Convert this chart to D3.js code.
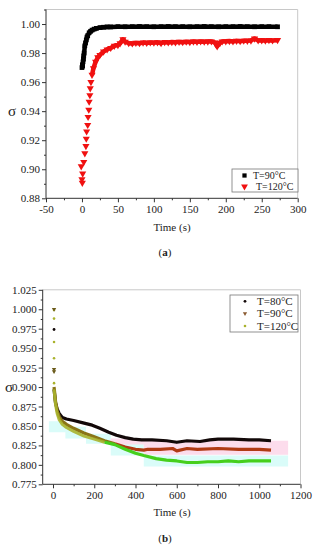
<!DOCTYPE html>
<html><head><meta charset="utf-8">
<script src="https://cdn.jsdelivr.net/npm/d3@7"></script>
<style>
body{margin:0;background:#fff}
svg{display:block}
text{font-family:"Liberation Serif","Times New Roman",serif;fill:#222}
</style></head>
<body><svg id="c" width="317" height="550" font-family="Liberation Serif, serif"></svg>
<script>
// ---------- Panel (a) data ----------
const aXTicks = [-50, 0, 50, 100, 150, 200, 250, 300];
const aYTicks = [0.88, 0.90, 0.92, 0.94, 0.96, 0.98, 1.00];
const aSeriesNames = ["T=90°C", "T=120°C"];
const aBlackT = [0, 0.5, 1, 1.5, 2, 2.5, 3, 4, 5, 6, 7, 8, 10, 12, 14, 17, 20, 25, 30, 35, 40, 50, 60, 70, 80, 90, 100, 110, 120, 130, 140, 150, 160, 170, 180, 190, 200, 210, 220, 230, 240, 250, 260, 272];
const aBlackV = [0.970, 0.972, 0.971, 0.974, 0.976, 0.978, 0.980, 0.985, 0.987, 0.989, 0.991, 0.992, 0.994, 0.995, 0.9958, 0.9965, 0.997, 0.9975, 0.9978, 0.998, 0.998, 0.9982, 0.9981, 0.9982, 0.9983, 0.9982, 0.9981, 0.9982, 0.9983, 0.9982, 0.9982, 0.9981, 0.9982, 0.9983, 0.9982, 0.9981, 0.9982, 0.9982, 0.9983, 0.9982, 0.9981, 0.9982, 0.9982, 0.9981];
const aRedT = [0.5, 0, 1, -1, 2.5, 4, 5.5, 6, 6.5, 8, 8.5, 9.5, 10, 11, 11.5, 12.5, 14, 16, 19, 22, 25, 30, 35, 40, 45, 50, 53, 57, 60, 65, 70, 75, 80, 85, 90, 95, 100, 105, 110, 115, 120, 125, 130, 135, 140, 145, 150, 155, 160, 165, 170, 175, 180, 185, 188, 192, 195, 200, 205, 210, 215, 220, 225, 230, 235, 240, 245, 250, 255, 260, 265, 272];
const aRedV = [0.8907, 0.893, 0.897, 0.902, 0.905, 0.911, 0.916, 0.921, 0.926, 0.9305, 0.936, 0.941, 0.9465, 0.951, 0.9557, 0.960, 0.965, 0.9695, 0.974, 0.977, 0.9787, 0.981, 0.9825, 0.9835, 0.985, 0.9855, 0.9867, 0.9895, 0.9878, 0.9868, 0.9866, 0.9870, 0.9868, 0.9872, 0.9870, 0.9873, 0.9871, 0.9874, 0.9868, 0.9875, 0.9873, 0.9876, 0.9874, 0.9877, 0.9875, 0.9878, 0.9876, 0.9879, 0.9877, 0.9880, 0.9878, 0.9879, 0.9880, 0.9872, 0.9846, 0.9870, 0.9880, 0.9881, 0.9883, 0.9880, 0.9884, 0.9882, 0.9885, 0.9884, 0.9886, 0.9900, 0.9887, 0.9888, 0.9886, 0.9889, 0.9887, 0.9889];

// ---------- Panel (b) data ----------
const bXTicks = [0, 200, 400, 600, 800, 1000, 1200];
const bYTicks = [0.775, 0.800, 0.825, 0.850, 0.875, 0.900, 0.925, 0.950, 0.975, 1.000, 1.025];
const bSeriesNames = ["T=80°C", "T=90°C", "T=120°C"];
const b80Start = [[5, 0.974]];
const b90Start = [[5, 1.000], [5, 0.923], [5, 0.920]];
const b120Start = [[5, 0.999], [5, 0.988], [5, 0.958], [5, 0.937], [5, 0.905]];
const b80T = [5, 8, 12, 20, 30, 45, 65, 100, 146, 190, 227, 270, 308, 350, 389, 430, 480, 551, 600, 650, 713, 760, 800, 875, 950, 1000, 1057];
const b80V = [0.897, 0.890, 0.880, 0.872, 0.866, 0.861, 0.859, 0.857, 0.854, 0.851, 0.847, 0.842, 0.838, 0.835, 0.833, 0.832, 0.832, 0.831, 0.829, 0.831, 0.830, 0.832, 0.833, 0.833, 0.832, 0.832, 0.831];
const b90T = [5, 8, 12, 20, 30, 45, 65, 100, 150, 200, 250, 300, 350, 400, 440, 460, 520, 580, 600, 650, 700, 800, 900, 1000, 1057];
const b90V = [0.900, 0.893, 0.882, 0.870, 0.862, 0.856, 0.852, 0.847, 0.841, 0.836, 0.831, 0.827, 0.823, 0.820, 0.819, 0.820, 0.820, 0.821, 0.818, 0.821, 0.820, 0.821, 0.820, 0.820, 0.819];
const b120T = [5, 8, 12, 20, 30, 45, 65, 100, 150, 200, 250, 300, 350, 400, 440, 500, 550, 600, 650, 700, 750, 800, 850, 900, 950, 1000, 1057];
const b120V = [0.897, 0.888, 0.878, 0.866, 0.858, 0.852, 0.848, 0.843, 0.837, 0.833, 0.829, 0.826, 0.820, 0.815, 0.812, 0.808, 0.806, 0.805, 0.803, 0.803, 0.804, 0.804, 0.805, 0.804, 0.805, 0.805, 0.805];
// shaded spread bands: [time, low, high]
const bPinkBand = [[280, 0.826, 0.834], [440, 0.813, 0.831], [1140, 0.813, 0.831]];
const bCyanBand = [[-20, 0.842, 0.856], [60, 0.834, 0.849], [160, 0.827, 0.840], [280, 0.812, 0.830], [440, 0.798, 0.812], [1140, 0.798, 0.812]];

const svg = d3.select("#c");

function drawAxes(g, x, y, xt, yt, xMinor, yMinor, yfmt, top, bot, left, right) {
  g.append("line").attr("x1", left).attr("x2", right).attr("y1", top).attr("y2", top).attr("stroke", "#c8c8c8");
  g.append("line").attr("x1", right).attr("x2", right).attr("y1", top).attr("y2", bot).attr("stroke", "#c8c8c8");
  const xa = g.append("g").attr("transform", `translate(0,${bot})`)
    .call(d3.axisBottom(x).tickValues(xt).tickSize(4).tickPadding(3).tickFormat(d => String(d)));
  g.append("g").attr("transform", `translate(0,${bot})`)
    .call(d3.axisBottom(x).tickValues(xMinor).tickSize(2).tickFormat(""))
    .select(".domain").remove();
  const ya = g.append("g").attr("transform", `translate(${left},0)`)
    .call(d3.axisLeft(y).tickValues(yt).tickSize(4).tickPadding(2).tickFormat(d3.format(yfmt)));
  g.append("g").attr("transform", `translate(${left},0)`)
    .call(d3.axisLeft(y).tickValues(yMinor).tickSize(2).tickFormat(""))
    .select(".domain").remove();
  g.selectAll("g").attr("font-family", "Liberation Serif, serif");
  g.selectAll(".domain").attr("stroke", "#333");
  g.selectAll(".tick line").attr("stroke", "#333");
  g.selectAll(".tick text").attr("font-size", 11).attr("fill", "#222");
  xa.select(".domain").attr("d", `M${left},0H${right}`);
  ya.select(".domain").attr("d", `M0,${bot}V${top}`);
}

// ================= Panel (a) =================
{
  const L = 46, R = 297.7, T = 9.5, B = 198.3;
  const x = d3.scaleLinear().domain([-50, 300]).range([L, R]);
  const y = d3.scaleLinear().domain([0.88, 1.01]).range([B, T]);
  const g = svg.append("g");
  const xMinor = d3.range(-25, 300, 50);
  const yMinor = [0.89, 0.91, 0.93, 0.95, 0.97, 0.99, 1.01];
  drawAxes(g, x, y, aXTicks, aYTicks, xMinor, yMinor, ".2f", T, B, L, R);

  const line = d3.line().x(d => x(d[0])).y(d => y(d[1]));
  const black = aBlackT.map((t, i) => [t, aBlackV[i]]);
  const red = aRedT.map((t, i) => [t, aRedV[i]]);

  g.append("path").attr("d", line(red.filter(d => d[0] >= 14))).attr("fill", "none")
    .attr("stroke", "#f01010").attr("stroke-width", 4.5).attr("stroke-linejoin", "round");
  g.selectAll(".rt").data(red).enter().append("path")
    .attr("d", d3.symbol(d3.symbolTriangle, 22)())
    .attr("transform", d => `translate(${x(d[0])},${y(d[1])}) rotate(180)`)
    .attr("fill", "#f01010");

  g.append("path").attr("d", line(black.filter(d => d[0] >= 1.5))).attr("fill", "none")
    .attr("stroke", "#000").attr("stroke-width", 4.5).attr("stroke-linejoin", "round");
  g.selectAll(".bs").data(black).enter().append("path")
    .attr("d", d3.symbol(d3.symbolSquare, 22)())
    .attr("transform", d => `translate(${x(d[0])},${y(d[1])})`)
    .attr("fill", "#000");

  g.append("text").attr("x", 12).attr("y", 116).attr("text-anchor", "middle").attr("font-size", 15).text("σ");
  g.append("text").attr("x", 172).attr("y", 230.5).attr("text-anchor", "middle").attr("font-size", 11).text("Time (s)");
  const lab = g.append("text").attr("x", 165).attr("y", 256).attr("text-anchor", "middle").attr("font-size", 11);
  lab.append("tspan").text("(");
  lab.append("tspan").attr("font-weight", "bold").text("a");
  lab.append("tspan").text(")");

  const lg = g.append("g");
  lg.append("rect").attr("x", 232).attr("y", 169).attr("width", 66).attr("height", 23)
    .attr("fill", "#fff").attr("stroke", "#777").attr("stroke-width", 0.8);
  lg.append("path").attr("d", d3.symbol(d3.symbolSquare, 18)()).attr("transform", "translate(244.5,175.5)").attr("fill", "#000");
  lg.append("path").attr("d", d3.symbol(d3.symbolTriangle, 20)()).attr("transform", "translate(244.5,186.5) rotate(180)").attr("fill", "#f01010");
  lg.append("text").attr("x", 253).attr("y", 179).attr("font-size", 10).text(aSeriesNames[0]);
  lg.append("text").attr("x", 256).attr("y", 190.3).attr("font-size", 10).text(aSeriesNames[1]);
}

// ================= Panel (b) =================
{
  const L = 42.7, R = 300.5, T = 289.8, B = 484.3;
  const x = d3.scaleLinear().domain([-50, 1200]).range([L, R]);
  const y = d3.scaleLinear().domain([0.775, 1.025]).range([B, T]);
  const g = svg.append("g");
  const xMinor = d3.range(100, 1200, 200);
  const yMinor = d3.range(0, 20).map(i => 0.7875 + i * 0.025).filter(v => v < 1.025);

  const area = d3.area().x(d => x(d[0])).y0(d => y(d[1])).y1(d => y(d[2])).curve(d3.curveStepAfter);
  g.append("path").attr("d", area(bCyanBand)).attr("fill", "#dafcf9");
  g.append("path").attr("d", area(bPinkBand)).attr("fill", "#fcdcec");

  drawAxes(g, x, y, bXTicks, bYTicks, xMinor, yMinor, ".3f", T, B, L, R);

  const line = d3.line().x(d => x(d[0])).y(d => y(d[1]));
  const s80 = b80T.map((t, i) => [t, b80V[i]]);
  const s90 = b90T.map((t, i) => [t, b90V[i]]);
  const s120 = b120T.map((t, i) => [t, b120V[i]]);

  const c80 = "#120808", c90early = "#8a7418", c90 = "#b03a14", c120early = "#a9b22c", c120 = "#46cf1c";

  g.append("path").attr("d", line(s80)).attr("fill", "none").attr("stroke", c80).attr("stroke-width", 3.2).attr("stroke-linejoin", "round");
  g.append("path").attr("d", line(s90.filter(d => d[0] <= 300))).attr("fill", "none").attr("stroke", c90early).attr("stroke-width", 3.2).attr("stroke-linejoin", "round");
  g.append("path").attr("d", line(s90.filter(d => d[0] >= 300))).attr("fill", "none").attr("stroke", c90).attr("stroke-width", 3.2).attr("stroke-linejoin", "round");
  g.append("path").attr("d", line(s120.filter(d => d[0] <= 250))).attr("fill", "none").attr("stroke", c120early).attr("stroke-width", 3).attr("stroke-linejoin", "round").attr("opacity", 0.9);
  g.append("path").attr("d", line(s120.filter(d => d[0] >= 250))).attr("fill", "none").attr("stroke", c120).attr("stroke-width", 3.2).attr("stroke-linejoin", "round");

  g.selectAll(".p120").data(b120Start).enter().append("circle")
    .attr("cx", d => x(d[0])).attr("cy", d => y(d[1])).attr("r", 1.3).attr("fill", c120early);
  g.selectAll(".p90").data(b90Start).enter().append("path")
    .attr("d", d3.symbol(d3.symbolTriangle, 8)())
    .attr("transform", d => `translate(${x(d[0])},${y(d[1])}) rotate(180)`).attr("fill", "#6a5a1a");
  g.selectAll(".p80").data(b80Start).enter().append("circle")
    .attr("cx", d => x(d[0])).attr("cy", d => y(d[1])).attr("r", 1.4).attr("fill", c80);

  g.append("text").attr("x", 9).attr("y", 392).attr("text-anchor", "middle").attr("font-size", 15).text("σ");
  g.append("text").attr("x", 172).attr("y", 516).attr("text-anchor", "middle").attr("font-size", 11).text("Time (s)");
  const lab = g.append("text").attr("x", 165).attr("y", 542).attr("text-anchor", "middle").attr("font-size", 11);
  lab.append("tspan").text("(");
  lab.append("tspan").attr("font-weight", "bold").text("b");
  lab.append("tspan").text(")");

  const lg = g.append("g");
  lg.append("rect").attr("x", 230).attr("y", 295).attr("width", 68).attr("height", 37)
    .attr("fill", "#fff").attr("stroke", "#777").attr("stroke-width", 0.8);
  const rows = [301.3, 313.6, 326];
  lg.append("circle").attr("cx", 245).attr("cy", rows[0]).attr("r", 1.4).attr("fill", c80);
  lg.append("path").attr("d", d3.symbol(d3.symbolTriangle, 8)()).attr("transform", `translate(245,${rows[1]}) rotate(180)`).attr("fill", "#8a5a30");
  lg.append("circle").attr("cx", 245).attr("cy", rows[2]).attr("r", 1.3).attr("fill", c120early);
  bSeriesNames.forEach((n, i) => {
    lg.append("text").attr("x", 257).attr("y", rows[i] + 3.8).attr("font-size", 11).text(n);
  });
}
</script></body></html>
